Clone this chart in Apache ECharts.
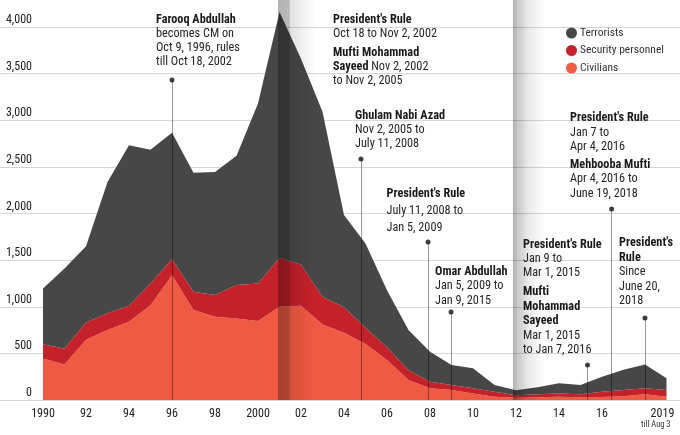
<!DOCTYPE html>
<html><head><meta charset="utf-8">
<script src="https://cdn.jsdelivr.net/npm/echarts@6/dist/echarts.min.js"></script>
<style>html,body{margin:0;padding:0;background:#fff}#c{width:680px;height:435px}</style>
</head><body><div id="c"></div>
<script>
// ---- data ----
const years = [1990,1991,1992,1993,1994,1995,1996,1997,1998,1999,2000,2001,2002,2003,2004,2005,2006,2007,2008,2009,2010,2011,2012,2013,2014,2015,2016,2017,2018,2019];
const civilians  = [446,382,645,750,839,1017,1339,964,892,875,846,1000,1010,811,720,600,428,214,125,107,71,36,25,29,36,29,32,40,61,36];
const security   = [151,168,185,180,171,233,171,196,233,357,404,522,442,296,275,175,137,106,71,54,54,53,27,32,35,32,57,67,64,71];
const terrorists = [598,860,820,1408,1721,1434,1357,1277,1320,1388,1930,2638,2208,1983,990,903,613,430,322,214,215,72,53,75,109,100,161,218,257,125];

const xTickValues = [1990,1992,1994,1996,1998,2000,2002,2004,2006,2008,2010,2012,2014,2016,2019];
const xTickLabels = ['1990','92','94','96','98','2000','02','04','06','08','10','12','14','16','2019'];
const seriesNames = ['Terrorists','Security personnel','Civilians'];

// annotation pin positions [year, value]
const pins = [[1996,3432],[2004.79,2584],[2007.91,1694],[2008.98,944],[2015.33,375],[2016.45,2048],[2018.0,879]];
// shaded bands [fromYear, toYear]
const bands = [[2000.93,2002.65],[2011.86,2013.35]];

// ---- font selection (narrow face if installed) ----
const ctx = document.createElement('canvas').getContext('2d');
function mw(font, txt){ ctx.font = font; return ctx.measureText(txt).width; }
function pickFont(cands){
  const probe = "President's Rule WWmmiil 2002";
  const ref = mw('13px monospace', probe);
  for (const f of cands){ if (Math.abs(mw('13px ' + f + ', monospace', probe) - ref) > 0.5) return f; }
  return 'sans-serif';
}
const FF = pickFont(['"Liberation Sans Narrow"','"Roboto Condensed"','"Noto Sans Condensed"','"DejaVu Sans Condensed"','Roboto','"Liberation Sans"']);
// horizontal squeeze so annotation text matches the reference widths
const SX = Math.min(1, 104 / mw('13px ' + FF, 'Oct 18 to Nov 2, 2002'));
const LFS = Math.min(12, Math.max(11.5, 12 * 82 / mw('12px ' + FF, 'Security personnel')));

const C_TER = '#474747', C_SEC = '#c4212b', C_CIV = '#f15a42';
const TOP = -19.62, BOTTOM = 35;

const base = {type:'line', stack:'total', xAxisIndex:1, yAxisIndex:1, symbol:'none', showSymbol:false,
  lineStyle:{width:0}, silent:true, z:2, emphasis:{disabled:true}};

function note(left, top, lh, text){
  return {type:'text', left:left, top:top, silent:true, z:100, scaleX:SX, scaleY:1,
    style:{text:text, fontFamily:FF, fontSize:13, lineHeight:lh, fill:'#262626',
      rich:{b:{fontFamily:FF, fontSize:13, fontWeight:'bold', lineHeight:lh, fill:'#1a1a1a'}}}};
}
function grad(stops){
  return {type:'linear', x:0, y:0, x2:1, y2:0, colorStops:stops.map(s=>({offset:s[0], color:'rgba(0,0,0,'+s[1]+')'}))};
}

const chart = echarts.init(document.getElementById('c'), null, {renderer:'canvas'});
chart.setOption({
  animation:false,
  backgroundColor:'#fff',
  grid:[
    {left:0, right:0, top:TOP, bottom:BOTTOM, outerBoundsMode:'none', containLabel:false},
    {left:43, right:13.5, top:TOP, bottom:BOTTOM, outerBoundsMode:'none', containLabel:false}
  ],
  legend:{orient:'vertical', left:566, top:27, padding:0, icon:'circle', itemWidth:11, itemHeight:11, itemGap:5.5,
    data:seriesNames, selectedMode:false,
    textStyle:{fontFamily:FF, fontSize:LFS, color:'#333', padding:[0,0,0,-2]}},
  xAxis:[
    {type:'value', gridIndex:0, min:1988, max:2019.63,
      axisLine:{show:false}, axisTick:{show:false}, splitLine:{show:false},
      axisLabel:{customValues:xTickValues, margin:8, fontFamily:FF, fontSize:12, color:'#222',
        formatter:function(v){ const i = xTickValues.indexOf(Math.round(v)); return i<0?'':(v===2019?'{r|2019}':xTickLabels[i]); },
        rich:{r:{fontFamily:FF, fontSize:12, color:'#222', padding:[0,8,0,0]}}}},
    {type:'category', gridIndex:1, data:years.map(String), boundaryGap:false, show:false}
  ],
  yAxis:[
    {type:'value', gridIndex:0, min:0, max:4500, interval:500,
      axisLine:{show:false}, axisTick:{show:false},
      splitLine:{lineStyle:{color:'#d6d6d6', width:1}},
      axisLabel:{inside:true, align:'right', margin:32, verticalAlign:'bottom', padding:[0,0,1,0],
        fontFamily:FF, fontSize:12, color:'#222',
        formatter:function(v){ return v.toLocaleString('en-US'); }}},
    {type:'value', gridIndex:1, min:0, max:4500, show:false, splitLine:{show:false}}
  ],
  series:[
    Object.assign({}, base, {name:'Civilians', data:civilians, color:C_CIV, itemStyle:{color:C_CIV}, areaStyle:{color:C_CIV, opacity:1}}),
    Object.assign({}, base, {name:'Security personnel', data:security, color:C_SEC, itemStyle:{color:C_SEC}, areaStyle:{color:C_SEC, opacity:1}}),
    Object.assign({}, base, {name:'Terrorists', data:terrorists, color:C_TER, itemStyle:{color:C_TER}, areaStyle:{color:C_TER, opacity:1}}),
    {type:'line', name:'overlay', xAxisIndex:0, yAxisIndex:0, data:[[1990,0]], symbol:'none', lineStyle:{opacity:0}, silent:true, z:6,
      markArea:{silent:true, z:10, data:[
        [{xAxis:bands[0][0], itemStyle:{color:grad([[0,0.3],[0.3,0.27],[0.34,0.12],[0.65,0.06],[1,0]])}}, {xAxis:bands[0][1]}],
        [{xAxis:bands[1][0], itemStyle:{color:grad([[0,0.3],[0.18,0.2],[0.5,0.08],[1,0]])}}, {xAxis:bands[1][1]}]
      ]},
      markLine:{silent:true, z:11, symbol:'none', label:{show:false},
        lineStyle:{color:'rgba(0,0,0,0.4)', width:1, type:'solid'},
        data:pins.map(p=>[{coord:[p[0],p[1]]},{coord:[p[0],0]}])}},
    {type:'scatter', name:'pins', xAxisIndex:0, yAxisIndex:0, data:pins, symbolSize:5, itemStyle:{color:'#111'}, silent:true, z:12}
  ],
  graphic:[
    note(156, 13, 14, '{b|Farooq Abdullah}\nbecomes CM on\nOct 9, 1996, rules\ntill Oct 18, 2002'),
    note(333, 13, 14, "{b|President's Rule}\nOct 18 to Nov 2, 2002"),
    note(333, 45.7, 14, '{b|Mufti Mohammad}\n{b|Sayeed} Nov 2, 2002\nto Nov 2, 2005'),
    note(355, 109, 14, '{b|Ghulam Nabi Azad}\nNov 2, 2005 to\nJuly 11, 2008'),
    note(386.5, 185.5, 17, "{b|President's Rule}\nJuly 11, 2008 to\nJan 5, 2009"),
    note(435, 264, 14.5, '{b|Omar Abdullah}\nJan 5, 2009 to\nJan 9, 2015'),
    note(523, 238, 14, "{b|President's Rule}\nJan 9 to\nMar 1, 2015"),
    note(523, 284.5, 14.6, '{b|Mufti}\n{b|Mohammad}\n{b|Sayeed}\nMar 1, 2015\nto Jan 7, 2016'),
    note(570, 110.5, 14.5, "{b|President's Rule}\nJan 7 to\nApr 4, 2016"),
    note(570, 157, 14.5, '{b|Mehbooba Mufti}\nApr 4, 2016 to\nJune 19, 2018'),
    note(619, 236, 14.4, "{b|President's}\n{b|Rule}\nSince\nJune 20,\n2018"),
    {type:'text', left:641, top:420, silent:true, z:100, scaleX:SX, style:{text:'till Aug 3', fontFamily:FF, fontSize:9, fill:'#333'}}
  ]
});
</script>
</body></html>
